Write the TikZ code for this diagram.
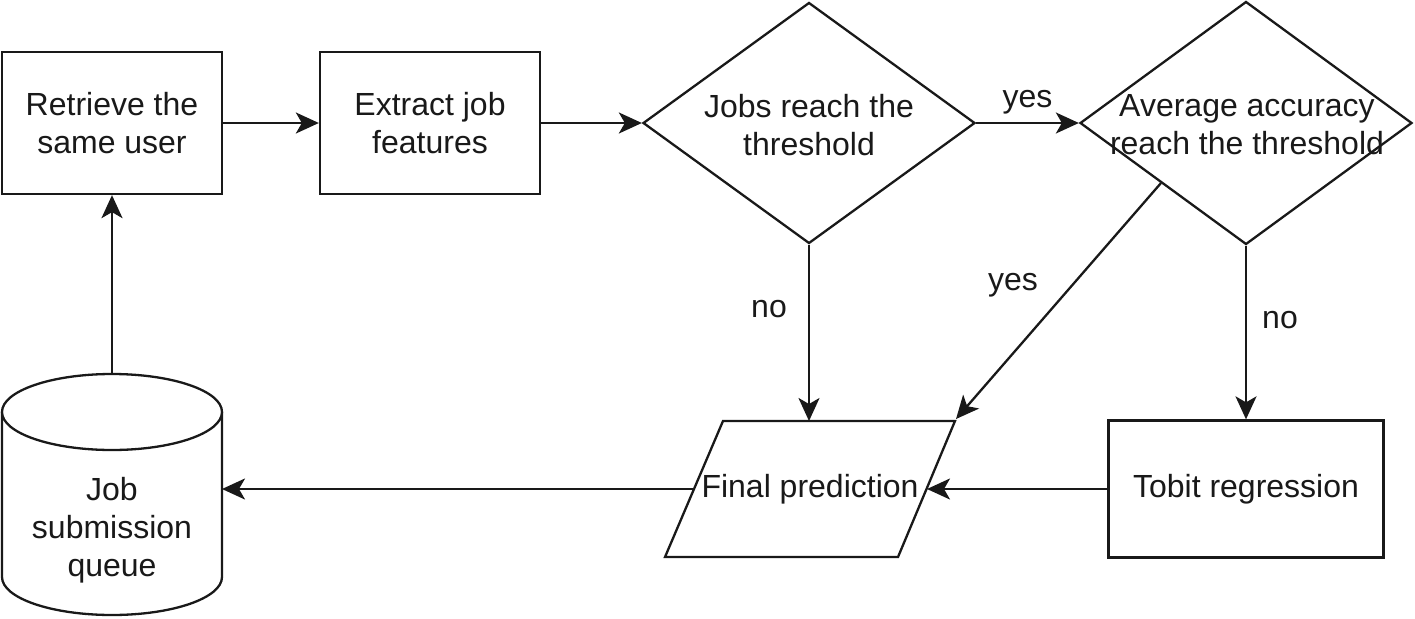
\documentclass[tikz,border=0pt]{standalone}
\usepackage{fontspec}
\setmainfont{Liberation Sans}
\usetikzlibrary{shapes.geometric,arrows.meta}
\begin{document}
\begin{tikzpicture}[x=1pt,y=-1pt,
  every node/.style={font=\fontsize{32}{38}\selectfont, align=center, text=black!90},
  ln/.style={line width=2.3pt, draw=black!90},
  procbox/.style={ln, rectangle, minimum width=220pt, minimum height=142pt, inner sep=0pt, fill=white},
  decision/.style={ln, diamond, minimum width=332pt, minimum height=241pt, inner sep=0pt},
  conn/.style={ln, -{Stealth[length=23pt,width=21pt,inset=6pt]}},
  lbl/.style={inner sep=0pt}
]
\useasboundingbox (0,0) rectangle (1415,618);

% process boxes
\node[procbox] (ret) at (112,123) {Retrieve the\\same user};
\node[procbox] (ext) at (430,123) {Extract job\\features};
\node[procbox, minimum width=275pt, minimum height=137pt] (tob) at (1246,489) {Tobit regression};

% decisions
\node[decision] (d1) at (809,123) {};
\node at (809,125) {Jobs reach the\\threshold};
\node[decision, minimum height=243pt] (d2) at (1246,123) {};
\node at (1247,125) {Average accuracy\\reach the threshold};

% parallelogram
\coordinate (pTL) at (723,421);
\coordinate (pTR) at (955,421);
\coordinate (pBR) at (898,557);
\coordinate (pBL) at (665,557);
\draw[ln, fill=white] (pTL) -- (pTR) -- (pBR) -- (pBL) -- cycle;
\node (fp) at (810,489) {Final prediction};
\coordinate (fpT) at (809,421);
\coordinate (fpR) at (927,489);
\coordinate (fpL) at (694,489);

% cylinder
\draw[ln, fill=white] (2,412) -- (2,577) arc[start angle=180, end angle=360, x radius=110pt, y radius=38pt] -- (222,412);
\draw[ln, fill=white] (112,412) ellipse (110pt and 38pt);
\coordinate (cylT) at (112,374);
\coordinate (cylR) at (222,489);
\node (cyl) at (112,530) {Job\\submission\\queue};

% connectors
\draw[conn] (ret.east) -- (ext.west);
\draw[conn] (ext.east) -- (d1.west);
\draw[conn] (d1.east) -- node[lbl, above=8pt] {yes} (d2.west);
\draw[conn] (d1.south) -- (fpT);
\node at (769,309) {no};
\draw[conn] (d2.south) -- (tob.north);
\node at (1280,320) {no};
\coordinate (d2sw) at (1161,183);
\draw[conn] (d2sw) -- (956,419);
\node at (1013,285) {yes};
\draw[conn] (tob.west) -- (fpR);
\draw[conn] (fpL) -- (cylR);
\draw[conn] (cylT) -- (ret.south);
\end{tikzpicture}
\end{document}
